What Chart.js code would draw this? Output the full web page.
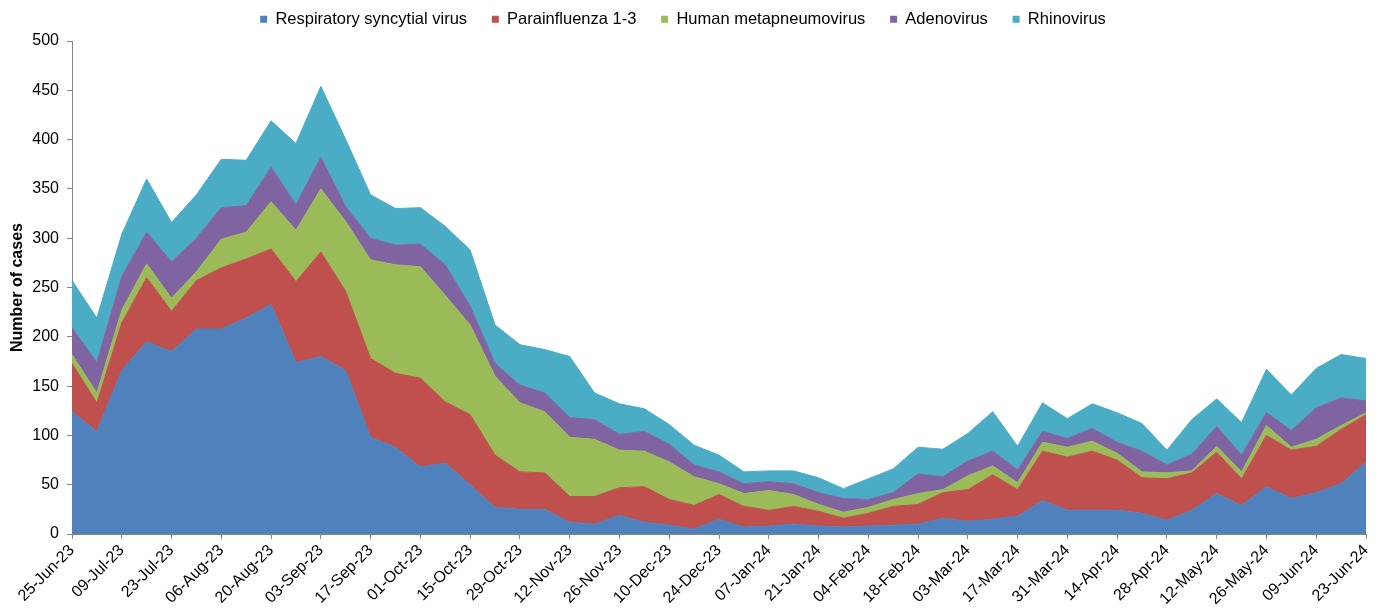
<!DOCTYPE html>
<html>
<head>
<meta charset="utf-8">
<title>Respiratory viruses - weekly cases</title>
<script src="https://cdn.jsdelivr.net/npm/chart.js@4.4.1/dist/chart.umd.min.js"></script>
<style>
  html, body { margin: 0; padding: 0; background: #fff; }
  #wrap { width: 1382px; height: 610px; position: relative; }
</style>
</head>
<body>
<div id="wrap"><canvas id="virusChart"></canvas></div>
<script>
// 주간 카테고리 (25-Jun-23 ~ 23-Jun-24)
const weekLabels = [
  '25-Jun-23', '02-Jul-23', '09-Jul-23', '16-Jul-23', '23-Jul-23', '30-Jul-23',
  '06-Aug-23', '13-Aug-23', '20-Aug-23', '27-Aug-23', '03-Sep-23', '10-Sep-23',
  '17-Sep-23', '24-Sep-23', '01-Oct-23', '08-Oct-23', '15-Oct-23', '22-Oct-23',
  '29-Oct-23', '05-Nov-23', '12-Nov-23', '19-Nov-23', '26-Nov-23', '03-Dec-23',
  '10-Dec-23', '17-Dec-23', '24-Dec-23', '31-Dec-23', '07-Jan-24', '14-Jan-24',
  '21-Jan-24', '28-Jan-24', '04-Feb-24', '11-Feb-24', '18-Feb-24', '25-Feb-24',
  '03-Mar-24', '10-Mar-24', '17-Mar-24', '24-Mar-24', '31-Mar-24', '07-Apr-24',
  '14-Apr-24', '21-Apr-24', '28-Apr-24', '05-May-24', '12-May-24', '19-May-24',
  '26-May-24', '02-Jun-24', '09-Jun-24', '16-Jun-24', '23-Jun-24'
];

const rsvCases = [
  124, 104, 166, 195, 185, 208, 208, 219, 233, 174, 180, 166, 98, 88, 68, 72, 50, 27,
  25, 25, 12, 10, 19, 12, 9, 5, 15, 7, 8, 10, 8, 7, 8, 9, 10, 16, 13, 15,
  18, 34, 24, 24, 24, 21, 14, 24, 41, 29, 48, 36, 42, 51, 73
];
const parainfluenzaCases = [
  49, 29, 48, 65, 41, 49, 62, 60, 56, 82, 106, 80, 80, 75, 90, 62, 71, 53,
  38, 37, 26, 28, 28, 36, 26, 24, 25, 21, 16, 18, 15, 9, 13, 19, 20, 26, 32, 45,
  27, 50, 54, 60, 51, 36, 42, 38, 42, 27, 52, 49, 47, 55, 48
];
const metapneumoCases = [
  9, 10, 13, 14, 13, 9, 29, 27, 48, 52, 64, 71, 100, 110, 113, 108, 91, 80,
  70, 62, 60, 58, 38, 36, 38, 29, 11, 13, 20, 12, 7, 6, 6, 7, 11, 3, 14, 9,
  7, 9, 10, 10, 7, 6, 6, 2, 6, 7, 10, 3, 7, 4, 2
];
const adenoCases = [
  27, 31, 34, 32, 37, 34, 32, 27, 35, 26, 32, 15, 22, 20, 23, 31, 19, 13,
  18, 19, 20, 20, 16, 20, 18, 12, 12, 10, 9, 11, 12, 14, 8, 7, 20, 13, 15, 15,
  13, 11, 9, 13, 11, 21, 8, 17, 20, 17, 13, 17, 32, 28, 12
];
const rhinoCases = [
  48, 45, 43, 54, 40, 44, 49, 46, 47, 62, 72, 68, 44, 37, 37, 39, 57, 39,
  41, 44, 62, 27, 31, 23, 20, 20, 17, 12, 11, 13, 15, 10, 21, 24, 27, 28, 28, 40,
  24, 29, 20, 25, 30, 28, 15, 35, 28, 33, 44, 36, 40, 44, 43
];

const seriesNames = [
  'Respiratory syncytial virus', 'Parainfluenza 1-3', 'Human metapneumovirus',
  'Adenovirus', 'Rhinovirus'
];
const seriesColors = ['#4F81BD', '#C0504D', '#9BBB59', '#8064A2', '#4BACC6'];
const seriesValues = [rsvCases, parainfluenzaCases, metapneumoCases, adenoCases, rhinoCases];

const FONT = "'Liberation Sans', Arial, sans-serif";
const AXIS_GRAY = '#868686';

// 범례 높이를 차트 영역 상단(41px)에 맞춤
const legendHeightFix = {
  id: 'legendHeightFix',
  beforeInit(chart) {
    const legend = chart.legend;
    if (!legend) return;
    const origFit = legend.fit;
    legend.fit = function () {
      origFit.call(this);
      this.height = 41;
    };
  }
};

const datasets = seriesNames.map((name, i) => ({
  label: name,
  data: seriesValues[i],
  backgroundColor: seriesColors[i],
  borderColor: seriesColors[i],
  borderWidth: 1,
  pointRadius: 0,
  pointHoverRadius: 0,
  tension: 0,
  fill: i === 0 ? 'origin' : '-1'
}));

const ctx = document.getElementById('virusChart').getContext('2d');
const virusChart = new Chart(ctx, {
  type: 'line',
  data: { labels: weekLabels, datasets },
  options: {
    responsive: true,
    maintainAspectRatio: false,
    animation: false,
    layout: { padding: { left: 0, right: 16, top: 0, bottom: 0 } },
    plugins: {
      tooltip: { enabled: false },
      legend: {
        display: true,
        position: 'top',
        labels: {
          boxWidth: 7,
          boxHeight: 7,
          padding: 11,
          color: '#000',
          font: { family: FONT, size: 16.5 },
          generateLabels(chart) {
            const items = Chart.defaults.plugins.legend.labels.generateLabels(chart);
            items.forEach((item, i) => {
              item.lineWidth = 0;
              if (i < items.length - 1) item.text += '   ';
            });
            return items;
          }
        }
      }
    },
    scales: {
      x: {
        type: 'category',
        offset: false,
        grid: {
          display: true,
          drawOnChartArea: false,
          drawTicks: true,
          tickLength: 5,
          color: AXIS_GRAY
        },
        border: { display: true, color: AXIS_GRAY },
        ticks: {
          autoSkip: false,
          minRotation: 45,
          maxRotation: 45,
          padding: 2,
          color: '#000',
          font: { family: FONT, size: 16 },
          callback(value, index) {
            return index % 2 === 0 ? this.getLabelForValue(value) : null;
          }
        },
        afterFit(scale) { scale.height = 76; }
      },
      y: {
        stacked: true,
        min: 0,
        max: 500,
        grid: {
          display: true,
          drawOnChartArea: false,
          drawTicks: true,
          tickLength: 5,
          color: AXIS_GRAY
        },
        border: { display: true, color: AXIS_GRAY },
        ticks: {
          stepSize: 50,
          padding: 8,
          color: '#000',
          font: { family: FONT, size: 16 }
        },
        title: {
          display: true,
          text: 'Number of cases',
          color: '#000',
          padding: { top: 8, bottom: 0 },
          font: { family: FONT, size: 16, weight: 'bold' }
        },
        afterFit(scale) { scale.width = 72; }
      }
    }
  },
  plugins: [legendHeightFix]
});
</script>
</body>
</html>
